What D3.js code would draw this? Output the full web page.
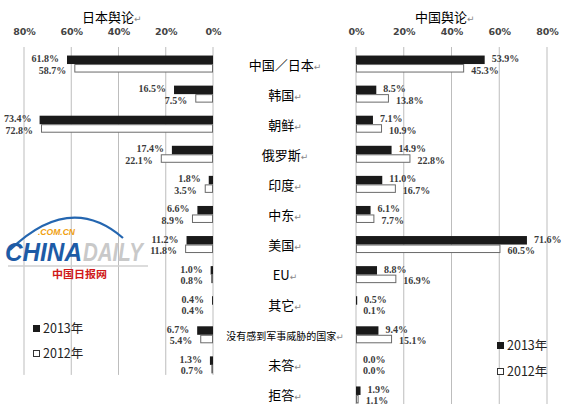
<!DOCTYPE html>
<html><head><meta charset="utf-8">
<script src="https://cdn.jsdelivr.net/npm/d3@7"></script>
<style>body{margin:0;background:#fff}svg{display:block}</style>
</head><body>
<svg id="chart" width="569" height="416"></svg>
<script>
const categories = ["中国／日本","韩国","朝鲜","俄罗斯","印度","中东","美国","EU","其它","没有感到军事威胁的国家","未答","拒答"];
const japan2013 = [61.8,16.5,73.4,17.4,1.8,6.6,11.2,1.0,0.4,6.7,1.3,null];
const japan2012 = [58.7,7.5,72.8,22.1,3.5,8.9,11.8,0.8,0.4,5.4,0.7,null];
const china2013 = [53.9,8.5,7.1,14.9,11.0,6.1,71.6,8.8,0.5,9.4,0.0,1.9];
const china2012 = [45.3,13.8,10.9,22.8,16.7,7.7,60.5,16.9,0.1,15.1,0.0,1.1];
const tickValues = [0,20,40,60,80];
const seriesNames = ["2013年","2012年"];
const titles = ["日本舆论","中国舆论"];

const svg = d3.select("#chart");
const y = d3.scaleBand().domain(categories).range([49,410]);
const xL = d3.scaleLinear().domain([0,80]).range([213,24]);
const xR = d3.scaleLinear().domain([0,80]).range([356,547]);
const cy = c => y(c) + y.bandwidth()/2;
const fmt = v => v.toFixed(1) + "%";
const barH = 8.5;

// gridlines
const gridTop = 47;
const leftBottom = y(categories[10]) + y.bandwidth() - 5;
const rightBottom = y(categories[11]) + y.bandwidth() - 6;
svg.append("g").selectAll("line").data(tickValues).join("line")
  .attr("x1", d=>xL(d)).attr("x2", d=>xL(d)).attr("y1", gridTop).attr("y2", leftBottom)
  .attr("stroke","#bdbdbd").attr("stroke-width",1);
svg.append("g").selectAll("line").data(tickValues).join("line")
  .attr("x1", d=>xR(d)).attr("x2", d=>xR(d)).attr("y1", gridTop).attr("y2", rightBottom)
  .attr("stroke","#bdbdbd").attr("stroke-width",1);

// axes (tick labels)
function styleAxis(g){
  g.select(".domain").remove();
  g.selectAll(".tick line").remove();
  g.selectAll("text").attr("font-family","DejaVu Sans").attr("font-weight","bold")
    .attr("font-size","9.5px").attr("fill","#444");
}
svg.append("g").attr("transform","translate(0,34.5)")
  .call(d3.axisTop(xL).tickValues(tickValues).tickSize(0).tickPadding(0).tickFormat(d=>d+"%"))
  .call(styleAxis);
svg.append("g").attr("transform","translate(0,34.5)")
  .call(d3.axisTop(xR).tickValues(tickValues).tickSize(0).tickPadding(0).tickFormat(d=>d+"%"))
  .call(styleAxis);

// titles / labels with return mark
function addLabel(sel, txt, x, yy, size, anchor){
  const t = sel.append("text").attr("x",x).attr("y",yy).attr("text-anchor",anchor)
    .attr("font-family","Noto Sans CJK SC").attr("font-size",size+"px").attr("fill","#000");
  t.append("tspan").text(txt);
  t.append("tspan").text("↵").attr("font-family","DejaVu Sans").attr("font-size","9px").attr("fill","#888");
  return t;
}
addLabel(svg, titles[0], 82, 21.5, 13, "start");
addLabel(svg, titles[1], 415, 21.5, 13, "start");

// logo (behind bars)
const logo = svg.append("g");
logo.append("path").attr("d","M10,250 Q70,192 123,238").attr("fill","none")
  .attr("stroke","#2466b0").attr("stroke-width",2.2);
logo.append("text").attr("x",38).attr("y",234.5).text(".COM.CN")
  .attr("font-family","Liberation Sans").attr("font-weight","bold").attr("font-style","italic")
  .attr("font-size","8.5px").attr("fill","#f0a010").attr("textLength",37).attr("lengthAdjust","spacingAndGlyphs");
const word = logo.append("g").attr("transform","translate(0,261) scale(1,1.2)");
word.append("text").attr("x",5).attr("y",0).text("CHINA")
  .attr("font-family","Liberation Sans").attr("font-weight","bold").attr("font-style","italic")
  .attr("font-size","22px").attr("fill","#1d5ba6").attr("textLength",77).attr("lengthAdjust","spacingAndGlyphs");
word.append("text").attr("x",83).attr("y",0).text("DAILY")
  .attr("font-family","Liberation Sans").attr("font-weight","bold").attr("font-style","italic")
  .attr("font-size","22px").attr("fill","#c9c9c9").attr("textLength",60).attr("lengthAdjust","spacingAndGlyphs");
logo.append("line").attr("x1",8).attr("x2",148).attr("y1",266).attr("y2",266)
  .attr("stroke","#d0d0d0").attr("stroke-width",1.5);
logo.append("text").attr("x",52).attr("y",277.5).text("中国日报网")
  .attr("font-family","Noto Sans CJK SC").attr("font-weight","bold")
  .attr("font-size","10px").attr("fill","#d01818").attr("textLength",55).attr("lengthAdjust","spacingAndGlyphs");

// bars
function drawSide(vals13, vals12, x, side){
  const g = svg.append("g");
  const d13 = categories.map((c,i)=>({c, v: vals13[i]})).filter(d=>d.v!==null);
  const d12 = categories.map((c,i)=>({c, v: vals12[i]})).filter(d=>d.v!==null);
  const x0 = x(0);
  g.selectAll("rect.b13").data(d13).join("rect").attr("class","b13")
    .attr("x", d=>Math.min(x0,x(d.v))).attr("width", d=>Math.abs(x(d.v)-x0))
    .attr("y", d=>cy(d.c)-barH).attr("height", barH).attr("fill","#1a1a1a");
  g.selectAll("rect.b12").data(d12).join("rect").attr("class","b12")
    .attr("x", d=>Math.min(x0,x(d.v))+0.5).attr("width", d=>Math.max(0,Math.abs(x(d.v)-x0)-1))
    .attr("y", d=>cy(d.c)+0.5).attr("height", barH-1).attr("fill","#fff")
    .attr("stroke","#6a6a6a").attr("stroke-width",1);
  const gap = side==="left" ? -8 : 7;
  const anchor = side==="left" ? "end" : "start";
  const lab = (data, dy) => g.append("g").selectAll("text").data(data).join("text")
    .attr("x", d=>x(d.v)+gap).attr("y", d=>cy(d.c)+dy).attr("text-anchor",anchor)
    .attr("font-family","Liberation Serif").attr("font-weight","bold")
    .attr("font-size","10px").attr("fill","#3a3a3a")
    .text(d=>fmt(d.v));
  lab(d13, -2);
  lab(d12, 9.5);
}
drawSide(japan2013, japan2012, xL, "left");
drawSide(china2013, china2012, xR, "right");

// center category labels
const cg = svg.append("g");
categories.forEach((c,i)=>{
  const small = c.length > 6;
  addLabel(cg, c, 285, cy(c)+5.5, small ? 10 : 13, "middle");
});

// legends
function legend(x, y1, y2){
  const g = svg.append("g");
  g.append("rect").attr("x",x).attr("y",y1-8).attr("width",7).attr("height",7).attr("fill","#1a1a1a");
  g.append("text").attr("x",x+10).attr("y",y1).text(seriesNames[0])
    .attr("font-family","Noto Sans CJK SC").attr("font-size","12.5px").attr("fill","#222");
  g.append("rect").attr("x",x+0.5).attr("y",y2-7.5).attr("width",6).attr("height",6).attr("fill","#fff")
    .attr("stroke","#333").attr("stroke-width",1);
  g.append("text").attr("x",x+10).attr("y",y2).text(seriesNames[1])
    .attr("font-family","Noto Sans CJK SC").attr("font-size","12.5px").attr("fill","#222");
}
legend(33, 333, 358);
legend(497, 350, 376);
</script>
</body></html>
